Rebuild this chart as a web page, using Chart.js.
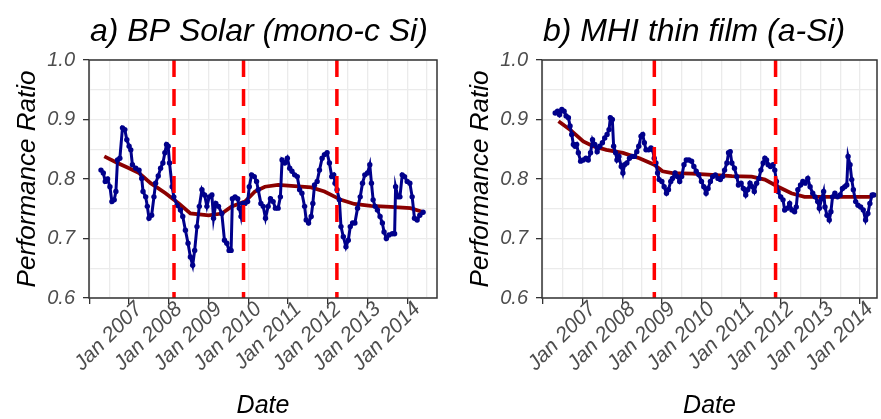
<!DOCTYPE html>
<html>
<head>
<meta charset="utf-8">
<script src="https://cdn.jsdelivr.net/npm/chart.js@4.4.1/dist/chart.umd.min.js"></script>
<style>
    html, body { margin: 0; padding: 0; background: #fff; }
    #wrap { position: relative; width: 881px; height: 419px; overflow: hidden; }
    .panel { position: absolute; top: 0; height: 419px; }
    #panelA { left: 0; width: 441px; }
    #panelB { left: 453px; width: 428px; }
</style>
</head>
<body>
<div id="wrap">
    <div class="panel" id="panelA"><canvas id="chartA" width="441" height="419"></canvas></div>
    <div class="panel" id="panelB"><canvas id="chartB" width="428" height="419"></canvas></div>
</div>
<script>
// ============================================================
// DATA (dates as decimal years)
// ============================================================
const yearTicks = [2007, 2008, 2009, 2010, 2011, 2012, 2013, 2014];
const xGrid = [2006, 2006.5, 2007, 2007.5, 2008, 2008.5, 2009, 2009.5, 2010, 2010.5,
               2011, 2011.5, 2012, 2012.5, 2013, 2013.5, 2014, 2014.5];
const yTicks = [0.6, 0.7, 0.8, 0.9, 1.0];
const yGrid = [0.6, 0.65, 0.7, 0.75, 0.8, 0.85, 0.9, 0.95, 1.0];

// a) BP Solar (mono-c Si)
const bpDates = [2006.292, 2006.35, 2006.40, 2006.458, 2006.517, 2006.567, 2006.625, 2006.667, 2006.708, 2006.767,
    2006.833, 2006.892, 2006.942, 2007.0, 2007.042, 2007.083, 2007.167, 2007.25, 2007.317, 2007.35,
    2007.417, 2007.458, 2007.5, 2007.567, 2007.625, 2007.667, 2007.733, 2007.792, 2007.85, 2007.9,
    2007.942, 2007.983, 2008.017, 2008.083, 2008.125, 2008.208, 2008.292, 2008.35, 2008.417, 2008.483,
    2008.542, 2008.6, 2008.65, 2008.708, 2008.767, 2008.833, 2008.9, 2008.958, 2009.017, 2009.083,
    2009.125, 2009.183, 2009.25, 2009.333, 2009.4, 2009.458, 2009.517, 2009.567, 2009.6, 2009.667,
    2009.733, 2009.775, 2009.817, 2009.858, 2009.917, 2009.983, 2010.025, 2010.083, 2010.15, 2010.208,
    2010.25, 2010.317, 2010.375, 2010.433, 2010.5, 2010.558, 2010.625, 2010.683, 2010.75, 2010.808,
    2010.85, 2010.917, 2010.983, 2011.042, 2011.1, 2011.167, 2011.233, 2011.292, 2011.35, 2011.417,
    2011.458, 2011.517, 2011.583, 2011.625, 2011.667, 2011.733, 2011.792, 2011.858, 2011.917, 2011.983,
    2012.042, 2012.1, 2012.15, 2012.183, 2012.233, 2012.292, 2012.333, 2012.392, 2012.458, 2012.517,
    2012.567, 2012.625, 2012.683, 2012.75, 2012.817, 2012.875, 2012.933, 2013.0, 2013.058, 2013.1,
    2013.142, 2013.192, 2013.25, 2013.317, 2013.375, 2013.417, 2013.475, 2013.542, 2013.625, 2013.683,
    2013.708, 2013.767, 2013.817, 2013.875, 2013.933, 2014.0, 2014.067, 2014.125, 2014.183, 2014.25,
    2014.317, 2014.4];
const bpPR = [0.815, 0.81, 0.796, 0.80, 0.787, 0.762, 0.765, 0.779, 0.832, 0.835,
    0.886, 0.883, 0.866, 0.855, 0.849, 0.824, 0.818, 0.815, 0.801, 0.779,
    0.770, 0.754, 0.734, 0.739, 0.770, 0.793, 0.805, 0.818, 0.827, 0.844,
    0.858, 0.855, 0.827, 0.787, 0.770, 0.756, 0.748, 0.737, 0.714, 0.692,
    0.669, 0.655, 0.680, 0.720, 0.754, 0.782, 0.773, 0.754, 0.770, 0.773,
    0.734, 0.759, 0.754, 0.742, 0.697, 0.692, 0.680, 0.680, 0.767, 0.770,
    0.767, 0.751, 0.737, 0.759, 0.759, 0.762, 0.787, 0.807, 0.804, 0.796,
    0.782, 0.759, 0.754, 0.734, 0.754, 0.767, 0.762, 0.751, 0.751, 0.770,
    0.832, 0.827, 0.835, 0.818, 0.813, 0.807, 0.804, 0.782, 0.776, 0.754,
    0.731, 0.726, 0.737, 0.759, 0.790, 0.796, 0.815, 0.835, 0.841, 0.844,
    0.827, 0.804, 0.807, 0.793, 0.782, 0.765, 0.720, 0.703, 0.686, 0.697,
    0.720, 0.726, 0.726, 0.751, 0.770, 0.793, 0.807, 0.810, 0.824, 0.793,
    0.765, 0.754, 0.748, 0.737, 0.726, 0.711, 0.700, 0.706, 0.708, 0.708,
    0.787, 0.770, 0.770, 0.807, 0.804, 0.796, 0.793, 0.770, 0.734, 0.731,
    0.739, 0.744];
const bpTrendDates = [2006.375, 2006.708, 2007.0, 2007.25, 2007.542, 2007.917, 2008.25, 2008.542, 2009.0, 2009.333,
    2009.583, 2009.917, 2010.167, 2010.417, 2010.75, 2011.167, 2011.583, 2011.917, 2012.333, 2012.667,
    2013.083, 2013.583, 2014.083, 2014.375];
const bpTrend = [0.838, 0.827, 0.818, 0.810, 0.793, 0.776, 0.759, 0.742, 0.739, 0.742,
    0.754, 0.762, 0.779, 0.787, 0.790, 0.788, 0.786, 0.779, 0.765, 0.758,
    0.755, 0.753, 0.751, 0.745];
const bpBreaks = [2008.13, 2009.88, 2012.23];

// b) MHI thin film (a-Si)
const mhiDates = [2006.308, 2006.367, 2006.417, 2006.475, 2006.533, 2006.583, 2006.642, 2006.683, 2006.725, 2006.767,
    2006.808, 2006.85, 2006.892, 2006.95, 2007.017, 2007.083, 2007.142, 2007.2, 2007.25, 2007.308,
    2007.367, 2007.433, 2007.5, 2007.558, 2007.617, 2007.667, 2007.7, 2007.75, 2007.783, 2007.833,
    2007.867, 2007.917, 2007.975, 2008.017, 2008.058, 2008.117, 2008.183, 2008.25, 2008.308, 2008.367,
    2008.417, 2008.475, 2008.517, 2008.558, 2008.6, 2008.667, 2008.725, 2008.767, 2008.808, 2008.85,
    2008.892, 2008.933, 2009.0, 2009.058, 2009.117, 2009.167, 2009.225, 2009.267, 2009.333, 2009.392,
    2009.45, 2009.5, 2009.558, 2009.617, 2009.683, 2009.75, 2009.808, 2009.867, 2009.933, 2010.0,
    2010.058, 2010.117, 2010.167, 2010.225, 2010.283, 2010.35, 2010.417, 2010.475, 2010.533, 2010.583,
    2010.642, 2010.683, 2010.725, 2010.767, 2010.833, 2010.892, 2010.933, 2011.0, 2011.058, 2011.117,
    2011.167, 2011.225, 2011.283, 2011.333, 2011.392, 2011.45, 2011.5, 2011.558, 2011.6, 2011.642,
    2011.683, 2011.742, 2011.808, 2011.85, 2011.892, 2011.933, 2012.0, 2012.058, 2012.1, 2012.167,
    2012.225, 2012.283, 2012.35, 2012.392, 2012.433, 2012.5, 2012.558, 2012.617, 2012.683, 2012.742,
    2012.808, 2012.867, 2012.933, 2012.975, 2013.033, 2013.083, 2013.117, 2013.167, 2013.225, 2013.267,
    2013.308, 2013.367, 2013.433, 2013.5, 2013.558, 2013.617, 2013.667, 2013.7, 2013.75, 2013.792,
    2013.833, 2013.892, 2013.95, 2014.017, 2014.083, 2014.142, 2014.2, 2014.25, 2014.308, 2014.35];
const mhiPR = [0.911, 0.914, 0.908, 0.917, 0.914, 0.906, 0.903, 0.889, 0.875, 0.858,
    0.855, 0.858, 0.844, 0.830, 0.832, 0.835, 0.832, 0.844, 0.866, 0.858,
    0.846, 0.855, 0.861, 0.869, 0.875, 0.883, 0.903, 0.900, 0.855, 0.844,
    0.832, 0.838, 0.821, 0.810, 0.824, 0.827, 0.835, 0.838, 0.838, 0.846,
    0.855, 0.872, 0.875, 0.861, 0.849, 0.849, 0.852, 0.849, 0.835, 0.827,
    0.810, 0.799, 0.796, 0.787, 0.776, 0.782, 0.796, 0.801, 0.810, 0.804,
    0.796, 0.804, 0.824, 0.832, 0.832, 0.830, 0.821, 0.813, 0.807, 0.796,
    0.787, 0.776, 0.784, 0.796, 0.804, 0.807, 0.801, 0.799, 0.804, 0.815,
    0.827, 0.844, 0.846, 0.827, 0.818, 0.804, 0.790, 0.793, 0.784, 0.773,
    0.782, 0.793, 0.787, 0.779, 0.793, 0.801, 0.815, 0.827, 0.835, 0.832,
    0.824, 0.821, 0.824, 0.815, 0.796, 0.779, 0.770, 0.765, 0.748, 0.751,
    0.759, 0.748, 0.745, 0.753, 0.782, 0.790, 0.796, 0.793, 0.801, 0.787,
    0.776, 0.770, 0.762, 0.751, 0.767, 0.779, 0.753, 0.739, 0.731, 0.745,
    0.770, 0.776, 0.770, 0.773, 0.784, 0.787, 0.790, 0.838, 0.824, 0.799,
    0.782, 0.762, 0.756, 0.753, 0.748, 0.731, 0.742, 0.759, 0.773, 0.773];
const mhiTrendDates = [2006.392, 2006.683, 2007.017, 2007.267, 2007.6, 2008.017, 2008.433, 2008.808, 2009.017, 2009.267,
    2009.767, 2010.267, 2010.767, 2011.267, 2011.6, 2011.933, 2012.267, 2012.6, 2013.1, 2013.767, 2014.308];
const mhiTrend = [0.897, 0.883, 0.863, 0.855, 0.849, 0.844, 0.835, 0.824, 0.813, 0.810,
    0.809, 0.807, 0.805, 0.804, 0.799, 0.787, 0.776, 0.770, 0.770, 0.770, 0.770];
const mhiBreaks = [2008.81, 2011.87];

// ============================================================
// STYLE
// ============================================================
const FONT = '"Liberation Sans", Arial, sans-serif';
const TICK_COLOR = '#4D4D4D';
const FRAME_COLOR = '#333333';
const GRID_COLOR = '#EBEBEB';

function toPoints(xs, ys) {
    return xs.map(function (x, i) { return { x: x, y: ys[i] }; });
}

// panel title + full border around the plotting area
const panelDecor = {
    id: 'panelDecor',
    afterDraw: function (chart, args, opts) {
        const ctx = chart.ctx;
        const a = chart.chartArea;
        ctx.save();
        ctx.strokeStyle = FRAME_COLOR;
        ctx.lineWidth = 1.5;
        ctx.strokeRect(a.left, a.top, a.right - a.left, a.bottom - a.top);
        ctx.fillStyle = '#000';
        ctx.font = 'italic 32px ' + FONT;
        ctx.textBaseline = 'alphabetic';
        ctx.textAlign = 'left';
        ctx.fillText(opts.text, a.left + 1, 41);
        ctx.restore();
    }
};

function makePanel(canvasId, title, dates, pr, trendDates, trend, breaks, xMin, xMax, padRight) {
    const ctx = document.getElementById(canvasId);

    const datasets = breaks.map(function (b) {
        return {
            data: [{ x: b, y: 1.0 }, { x: b, y: 0.6 }],
            borderColor: '#FF0000',
            borderWidth: 3.5,
            borderDash: [17, 12],
            pointRadius: 0
        };
    });
    datasets.push({
        data: toPoints(dates, pr),
        borderColor: '#00008B',
        backgroundColor: '#00008B',
        borderWidth: 3,
        pointRadius: 2.7,
        pointBorderWidth: 0,
        tension: 0
    });
    datasets.push({
        data: toPoints(trendDates, trend),
        borderColor: '#8B0000',
        borderWidth: 3.8,
        pointRadius: 0,
        tension: 0
    });

    return new Chart(ctx, {
        type: 'line',
        data: { datasets: datasets },
        plugins: [panelDecor],
        options: {
            responsive: false,
            animation: false,
            layout: { padding: { left: 0, top: 60, right: padRight, bottom: 0 } },
            plugins: {
                legend: { display: false },
                tooltip: { enabled: false },
                panelDecor: { text: title }
            },
            scales: {
                x: {
                    type: 'linear',
                    min: xMin,
                    max: xMax,
                    afterBuildTicks: function (axis) {
                        axis.ticks = xGrid.filter(function (v) { return v <= xMax; })
                            .map(function (v) { return { value: v }; });
                    },
                    afterFit: function (scale) { scale.height = 121; },
                    border: { display: false },
                    grid: {
                        color: GRID_COLOR,
                        lineWidth: 1.3,
                        tickLength: 6,
                        tickWidth: 1.3,
                        tickColor: function (c) {
                            return c.tick && Number.isInteger(c.tick.value) ? FRAME_COLOR : 'rgba(0,0,0,0)';
                        }
                    },
                    ticks: {
                        autoSkip: false,
                        minRotation: 45,
                        maxRotation: 45,
                        padding: -7,
                        labelOffset: 10,
                        color: TICK_COLOR,
                        font: { family: FONT, size: 21, style: 'italic' },
                        callback: function (v) {
                            return yearTicks.indexOf(v) >= 0 ? 'Jan ' + v : '';
                        }
                    },
                    title: {
                        display: true,
                        text: 'Date',
                        color: '#000',
                        font: { family: FONT, size: 25, style: 'italic' },
                        padding: { top: 0, bottom: -2 }
                    }
                },
                y: {
                    type: 'linear',
                    min: 0.6,
                    max: 1.0,
                    afterBuildTicks: function (axis) {
                        axis.ticks = yGrid.map(function (v) { return { value: v }; });
                    },
                    afterFit: function (scale) { scale.width = 89; },
                    border: { display: false },
                    grid: {
                        color: GRID_COLOR,
                        lineWidth: 1.3,
                        tickLength: 6,
                        tickWidth: 1.3,
                        tickColor: function (c) {
                            return c.tick && yTicks.indexOf(c.tick.value) >= 0 ? FRAME_COLOR : 'rgba(0,0,0,0)';
                        }
                    },
                    ticks: {
                        padding: 8,
                        color: TICK_COLOR,
                        font: { family: FONT, size: 20, style: 'italic' },
                        callback: function (v) {
                            return yTicks.indexOf(v) >= 0 ? v.toFixed(1) : '';
                        }
                    },
                    title: {
                        display: true,
                        text: 'Performance Ratio',
                        color: '#000',
                        font: { family: FONT, size: 26, style: 'italic' },
                        padding: { top: 12, bottom: 0 }
                    }
                }
            }
        }
    });
}

makePanel('chartA', 'a) BP Solar (mono-c Si)', bpDates, bpPR, bpTrendDates, bpTrend, bpBreaks, 2005.99, 2014.75, 2);
makePanel('chartB', 'b) MHI thin film (a-Si)', mhiDates, mhiPR, mhiTrendDates, mhiTrend, mhiBreaks, 2005.975, 2014.43, 1);
</script>
</body>
</html>
